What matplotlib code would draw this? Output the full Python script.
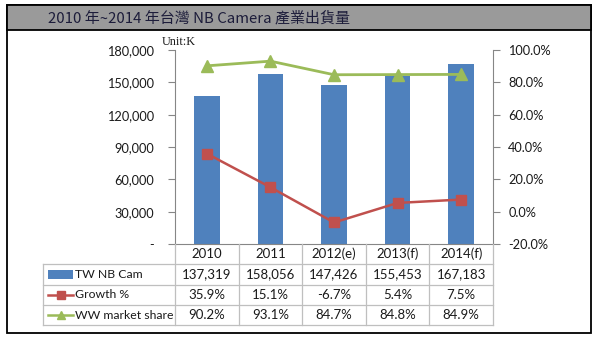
import matplotlib
matplotlib.use("Agg")
import matplotlib.pyplot as plt
from matplotlib.patches import Rectangle
from matplotlib.lines import Line2D

# ---- data ----
years = ["2010", "2011", "2012(e)", "2013(f)", "2014(f)"]
tw_nb_cam = [137319, 158056, 147426, 155453, 167183]
growth = [35.9, 15.1, -6.7, 5.4, 7.5]
ww_share = [90.2, 93.1, 84.7, 84.8, 84.9]
left_ticks = [0, 30000, 60000, 90000, 120000, 150000, 180000]
right_ticks = [-20, 0, 20, 40, 60, 80, 100]
series_names = ["TW NB Cam", "Growth %", "WW market share"]
title = "2010 年~2014 年台灣 NB Camera 產業出貨量"

BLUE = "#4F81BD"
RED = "#C0504D"
GREEN = "#9BBB59"
GRID = "#BFBFBF"
AXIS = "#868686"
TXT = "#1a1a1a"

W, H = 598, 338
fig = plt.figure(figsize=(W / 100, H / 100), dpi=100)
fig.patch.set_facecolor("white")

def fx(px):
    return px / W

def fy(py):
    return 1 - py / H

lab_font = dict(family=["Lato", "DejaVu Sans"], size=9.5, color=TXT)

# ---- frame and title bar ----
fig.add_artist(Rectangle((fx(7), fy(333)), fx(591) - fx(7), fy(5) - fy(333),
                         transform=fig.transFigure, fill=False, ec="black", lw=1.3))
fig.add_artist(Rectangle((fx(7), fy(30)), fx(591) - fx(7), fy(5) - fy(30),
                         transform=fig.transFigure, fc="#9a9a9a", ec="black", lw=1.3))
fig.text(fx(48), fy(18), title, ha="left", va="center",
         family=["Noto Sans CJK TC", "DejaVu Sans"], size=10.8, color="#1c1c3a")

# ---- main chart ----
L, R, T, B = 175, 493, 50, 244
ax = fig.add_axes([fx(L), fy(B), fx(R) - fx(L), fy(T) - fy(B)])
x = list(range(len(years)))
ax.bar(x, tw_nb_cam, width=0.4, color=BLUE, zorder=2)
ax.set_xlim(-0.5, len(years) - 0.5)
ax.set_ylim(0, 180000)
ax.set_yticks(left_ticks)
ax.set_yticklabels(["-" if v == 0 else f"{v:,}" for v in left_ticks])
ax.set_xticks([])
for s in ["top", "right"]:
    ax.spines[s].set_visible(False)
ax.spines["left"].set_color(AXIS)
ax.spines["bottom"].set_color(AXIS)
ax.tick_params(axis="y", length=5, color=AXIS, pad=10, labelsize=9.2, labelcolor=TXT)
for t in ax.get_yticklabels():
    t.set_family(["Lato", "DejaVu Sans"])

ax2 = ax.twinx()
ax2.set_ylim(-20, 100)
ax2.set_yticks(right_ticks)
ax2.set_yticklabels([f"{v:.1f}%" for v in right_ticks])
for s in ["top", "left", "bottom"]:
    ax2.spines[s].set_visible(False)
ax2.spines["right"].set_color(AXIS)
ax2.tick_params(axis="y", length=5, color=AXIS, pad=6, labelsize=9.2, labelcolor=TXT)
for t in ax2.get_yticklabels():
    t.set_family(["Lato", "DejaVu Sans"])
ax2.plot(x, ww_share, color=GREEN, lw=2, marker="^", ms=8, zorder=3)
ax2.plot(x, growth, color=RED, lw=1.8, marker="s", ms=7, zorder=3)

fig.text(fx(162), fy(42), "Unit:K", ha="left", va="center",
         family=["Liberation Serif", "DejaVu Serif"], size=8.8, color=TXT)

# ---- data table under the chart ----
row_h = 20.3
tab_bottom = B + 4 * row_h
tab = fig.add_axes([fx(L), fy(tab_bottom), fx(R) - fx(L), fy(B) - fy(tab_bottom)])
tab.set_xlim(-0.5, len(years) - 0.5)
tab.set_ylim(4, 0)
tab.axis("off")
unit = (R - L) / len(years)
leg_left = -0.5 - (L - 43) / unit

kw = dict(color=GRID, lw=0.9, clip_on=False)
# horizontal rules
for r in [1, 2, 3, 4]:
    tab.plot([leg_left, len(years) - 0.5], [r, r], **kw)
# vertical rules
for c in range(len(years) + 1):
    tab.plot([c - 0.5, c - 0.5], [0, 4], **kw)
tab.plot([leg_left, leg_left], [1, 4], **kw)

for i, y in enumerate(years):
    tab.text(i, 0.5, y, ha="center", va="center", **lab_font)
    tab.text(i, 1.5, f"{tw_nb_cam[i]:,}", ha="center", va="center", **lab_font)
    tab.text(i, 2.5, f"{growth[i]:.1f}%", ha="center", va="center", **lab_font)
    tab.text(i, 3.5, f"{ww_share[i]:.1f}%", ha="center", va="center", **lab_font)

# legend keys
k0 = leg_left + 5 / unit
k1 = leg_left + 30 / unit
tab.add_patch(Rectangle((k0, 1.3), k1 - k0, 0.4, fc=BLUE, ec="none", clip_on=False))
tab.add_line(Line2D([k0, k1], [2.5, 2.5], color=RED, lw=1.8, clip_on=False))
tab.plot([(k0 + k1) / 2], [2.5], marker="s", ms=6, color=RED, clip_on=False)
tab.add_line(Line2D([k0, k1], [3.5, 3.5], color=GREEN, lw=1.8, clip_on=False))
tab.plot([(k0 + k1) / 2], [3.5], marker="^", ms=6, color=GREEN, clip_on=False)
name_font = dict(lab_font, size=8.8)
for r, name in enumerate(series_names):
    tab.text(k1 + 2 / unit, r + 1.5, name, ha="left", va="center", **name_font)

fig.savefig("out.png", dpi=100)
